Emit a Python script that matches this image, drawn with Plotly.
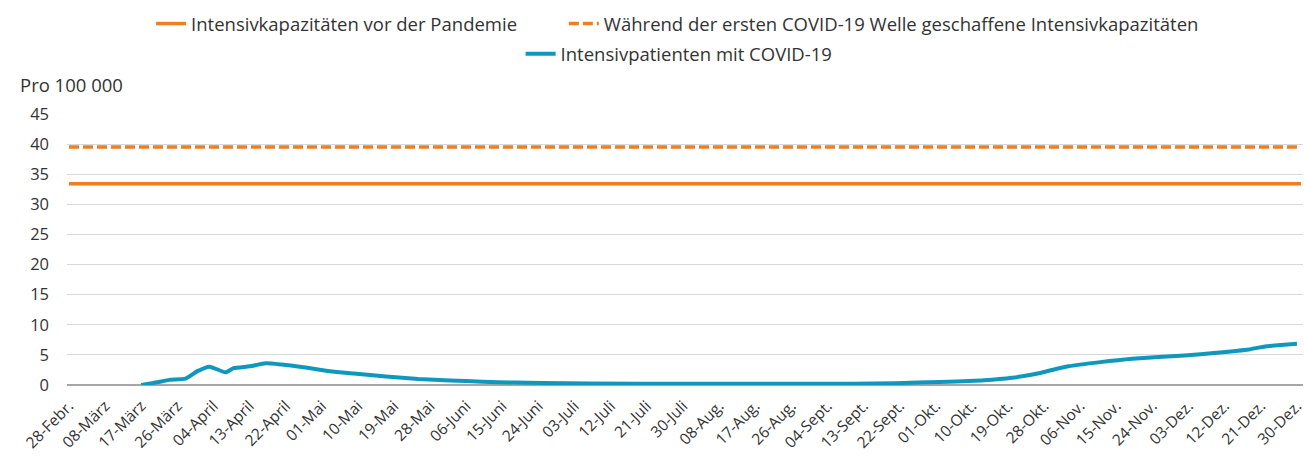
import plotly.graph_objects as go

# Tagesraster der Achse (2020)
achse_von = '2020-02-27 12:00'
achse_bis = '2020-12-31 12:00'
tick_daten = ['2020-02-28', '2020-03-08', '2020-03-17', '2020-03-26', '2020-04-04', '2020-04-13',
              '2020-04-22', '2020-05-01', '2020-05-10', '2020-05-19', '2020-05-28', '2020-06-06',
              '2020-06-15', '2020-06-24', '2020-07-03', '2020-07-12', '2020-07-21', '2020-07-30',
              '2020-08-08', '2020-08-17', '2020-08-26', '2020-09-04', '2020-09-13', '2020-09-22',
              '2020-10-01', '2020-10-10', '2020-10-19', '2020-10-28', '2020-11-06', '2020-11-15',
              '2020-11-24', '2020-12-03', '2020-12-12', '2020-12-21', '2020-12-30']
tick_labels = ['28-Febr.', '08-März', '17-März', '26-März', '04-April', '13-April', '22-April',
               '01-Mai', '10-Mai', '19-Mai', '28-Mai', '06-Juni', '15-Juni', '24-Juni', '03-Juli',
               '12-Juli', '21-Juli', '30-Juli', '08-Aug.', '17-Aug.', '26-Aug.', '04-Sept.',
               '13-Sept.', '22-Sept.', '01-Okt.', '10-Okt.', '19-Okt.', '28-Okt.', '06-Nov.',
               '15-Nov.', '24-Nov.', '03-Dez.', '12-Dez.', '21-Dez.', '30-Dez.']

# Kapazitäten (pro 100 000)
kap_daten = ['2020-02-28', '2020-12-31']
kap_vor_pandemie = [33.4, 33.4]
kap_erste_welle = [39.5, 39.5]

# Intensivpatienten mit COVID-19 (pro 100 000)
pat_daten = ['2020-03-17', '2020-03-21', '2020-03-24', '2020-03-28', '2020-03-31', '2020-04-03',
             '2020-04-07', '2020-04-09', '2020-04-13', '2020-04-17', '2020-04-21', '2020-04-26',
             '2020-05-03', '2020-05-09', '2020-05-17', '2020-05-25', '2020-06-02', '2020-06-10',
             '2020-06-18', '2020-06-25', '2020-07-07', '2020-08-01', '2020-08-20', '2020-09-10',
             '2020-09-21', '2020-10-02', '2020-10-13', '2020-10-20', '2020-10-27', '2020-10-30',
             '2020-11-03', '2020-11-11', '2020-11-19', '2020-12-02', '2020-12-10', '2020-12-18',
             '2020-12-22', '2020-12-26', '2020-12-30']
pat_werte = [0.0, 0.45, 0.85, 1.05, 2.3, 3.05,
             2.1, 2.8, 3.1, 3.6, 3.4, 3.0,
             2.3, 1.9, 1.4, 1.0, 0.75, 0.55,
             0.4, 0.35, 0.25, 0.2, 0.2, 0.2,
             0.3, 0.5, 0.78, 1.2, 2.0, 2.5,
             3.1, 3.8, 4.35, 4.9, 5.35, 5.9,
             6.4, 6.65, 6.85]

y_ticks = [0, 5, 10, 15, 20, 25, 30, 35, 40, 45]

ORANGE = '#F07D1E'
BLAU = '#0E98BE'
TEXT = '#333333'
SCHRIFT = 'Open Sans'

fig = go.Figure()
fig.add_trace(go.Scatter(
    x=kap_daten, y=kap_vor_pandemie, mode='lines',
    name='Intensivkapazitäten vor der Pandemie',
    line=dict(color=ORANGE, width=3.5)))
fig.add_trace(go.Scatter(
    x=kap_daten, y=kap_erste_welle, mode='lines', legend='legend2',
    name='Während der ersten COVID-19 Welle geschaffene Intensivkapazitäten',
    line=dict(color=ORANGE, width=3.5, dash='10px,4px')))
fig.add_trace(go.Scatter(
    x=pat_daten, y=pat_werte, mode='lines', legend='legend3',
    name='Intensivpatienten mit COVID-19',
    line=dict(color=BLAU, width=4, shape='spline', smoothing=0.5)))

legende_stil = dict(orientation='h', xanchor='left', yanchor='middle',
                    font=dict(size=18.5, color=TEXT), itemwidth=30,
                    bgcolor='rgba(0,0,0,0)')
fig.update_layout(
    width=1304, height=457,
    margin=dict(l=67, r=1, t=114, b=72, autoexpand=False),
    paper_bgcolor='white', plot_bgcolor='white',
    font=dict(family=SCHRIFT, size=16, color=TEXT),
    showlegend=True,
    legend=dict(legende_stil, x=0.068, y=1.332),
    legend2=dict(legende_stil, x=0.402, y=1.332),
    legend3=dict(legende_stil, x=0.367, y=1.221),
    annotations=[dict(text='Pro 100 000', xref='paper', yref='paper', x=-0.040, y=1.11,
                      xanchor='left', yanchor='middle', showarrow=False,
                      font=dict(size=18.5, color=TEXT))],
)
fig.update_xaxes(
    type='date', range=[achse_von, achse_bis], automargin=False,
    tickvals=tick_daten, ticktext=tick_labels, tickangle=-45,
    tickfont=dict(size=15.5, color=TEXT), ticklabeloverflow='allow',
    ticklabelstandoff=8,
    showgrid=False, showline=False, zeroline=False, ticks='')
fig.update_yaxes(
    range=[0, 45], tickvals=y_ticks, tickfont=dict(size=16.5, color=TEXT),
    automargin=False,
    showgrid=True, gridcolor='#D9D9D9', gridwidth=1,
    zeroline=True, zerolinecolor='#A6A6A6', zerolinewidth=1.5,
    showline=False, ticks='', ticklabelstandoff=17)

fig.write_html('out.html', config={'displayModeBar': False},
               post_script="document.body.style.margin='0';")
